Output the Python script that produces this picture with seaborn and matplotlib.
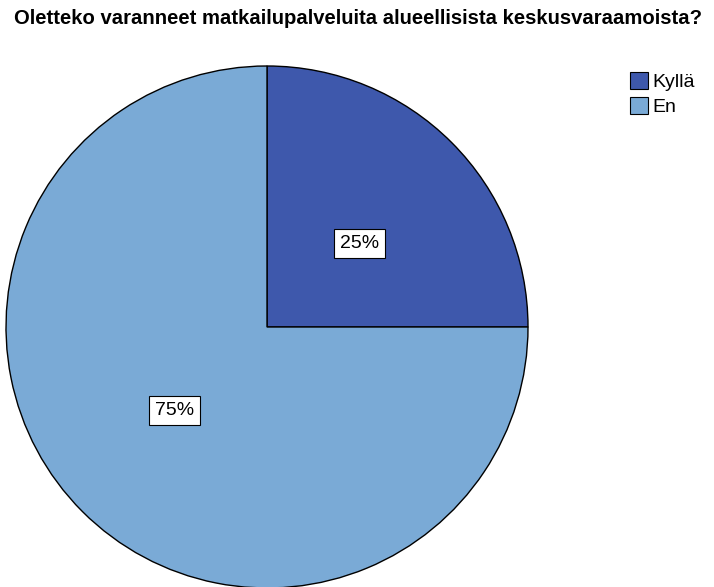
import matplotlib
matplotlib.use("Agg")
import matplotlib.pyplot as plt
import seaborn as sns
from matplotlib.patches import Patch

sns.set_style("white")
plt.rcParams['font.family'] = ['Liberation Sans', 'DejaVu Sans']
plt.rcParams['text.color'] = 'black'

categories = ["Kyllä", "En"]
values = [25, 75]
colors = ["#3e58ac", "#7aaad6"]
title = "Oletteko varanneet matkailupalveluita alueellisista keskusvaraamoista?"

fig = plt.figure(figsize=(7.14, 5.87), dpi=100)
fig.patch.set_facecolor("white")
ax = fig.add_axes([6/714, 1 - 588/587, 522/714, 522/587])
wedges, texts, autotexts = ax.pie(
    values, colors=colors, startangle=90, counterclock=False,
    autopct=lambda p: f"{p:.0f}%", pctdistance=0.5,
    wedgeprops=dict(edgecolor="black", linewidth=1.0),
    textprops=dict(fontsize=14, color="black"))
for t in autotexts:
    t.set_bbox(dict(facecolor="white", edgecolor="black", linewidth=0.8,
                    boxstyle="square,pad=0.3"))
    # hang each label box toward the pie centre
    t.set_va("top" if t.get_position()[1] > 0 else "bottom")
ax.set_xlim(-1, 1)
ax.set_ylim(-1, 1)
ax.set_aspect("auto")
ax.axis("off")

fig.text(358/714, 1 - 18/587, title, ha="center", va="center",
         fontsize=14.6, fontweight="bold", color="black")

handles = [Patch(facecolor=c, edgecolor="black", linewidth=0.8) for c in colors]
fig.legend(handles, categories, loc="upper left", bbox_to_anchor=(626/714, 1 - 68/587),
           frameon=False, fontsize=14, handlelength=0.95, handleheight=0.95,
           handletextpad=0.2, labelspacing=0.3, borderpad=0.2, borderaxespad=0)

fig.savefig("out.png", dpi=100)
